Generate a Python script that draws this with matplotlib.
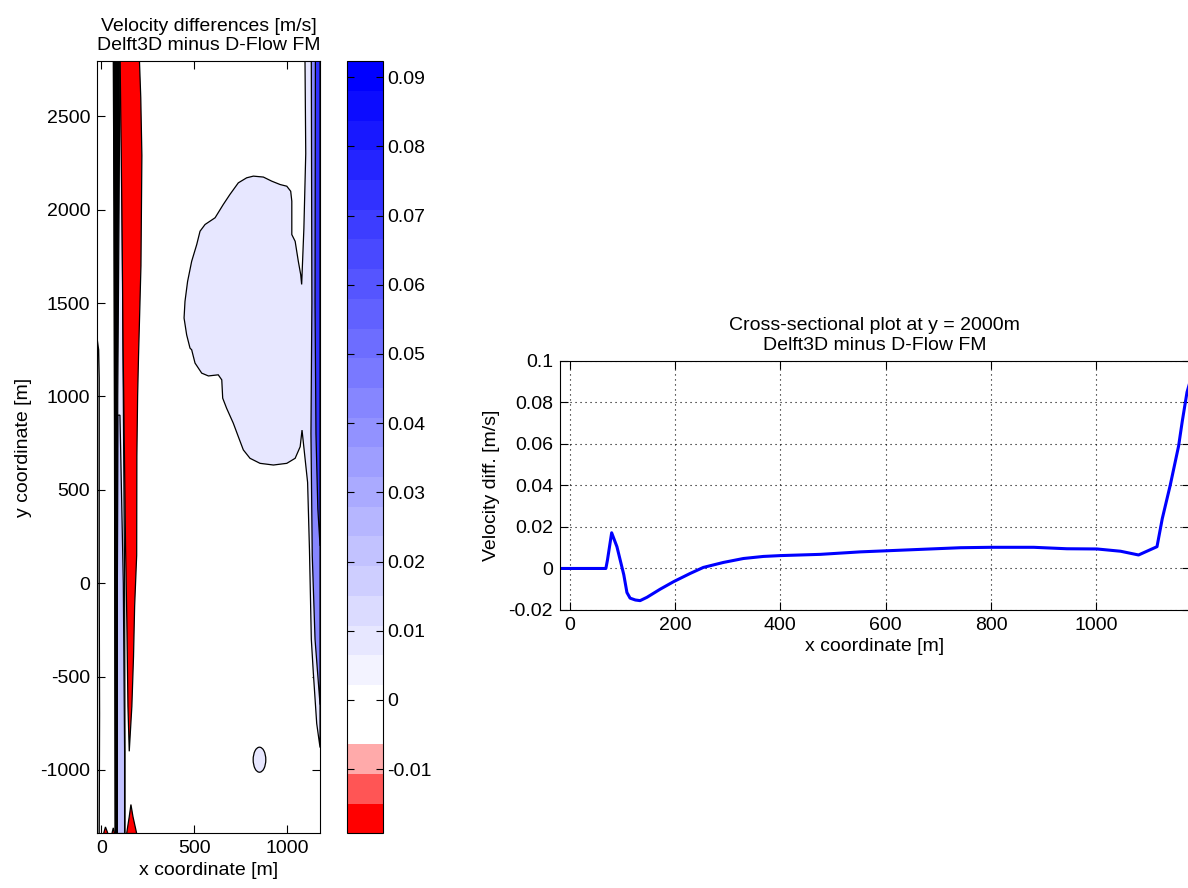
import numpy as np
import matplotlib
matplotlib.use('Agg')
import matplotlib.pyplot as plt
from matplotlib.colors import ListedColormap, Normalize
from matplotlib.cm import ScalarMappable
from matplotlib.patches import Polygon, Ellipse

plt.rcParams['font.family'] = ['Liberation Sans', 'DejaVu Sans']
plt.rcParams['font.size'] = 14
plt.rcParams['axes.unicode_minus'] = False

# ---- contour regions of the velocity difference field ----
# blob in the middle, joined to the strip along the right bank (level ~0.008 m/s)
lav_x = [1096, 1100, 1090, 1078, 1073, 1060, 1043, 1025, 1025, 1019, 998, 962, 917, 872, 818,
         782, 737, 692, 656, 612, 558, 531, 513, 486, 464, 450, 445, 459, 477, 486, 504, 540,
         576, 629, 648, 653, 674, 710, 737, 764, 800, 854, 926, 998, 1043, 1070, 1080, 1110,
         1120, 1130, 1141, 1159, 1177, 1177]
lav_y = [2795, 2300, 1900, 1600, 1652, 1724, 1831, 1867, 2046, 2099, 2126, 2135, 2153, 2175, 2180,
         2171, 2144, 2082, 2028, 1957, 1921, 1885, 1813, 1724, 1616, 1509, 1420, 1330, 1259, 1250,
         1179, 1125, 1110, 1116, 1089, 991, 937, 857, 785, 714, 669, 642, 633, 642, 669, 731, 820,
         540, 180, -300, -483, -751, -880, 2795]
lav_level = 0.008

# stronger positive strips along the right bank
mid_x = [1130, 1133, 1128, 1135, 1150, 1177, 1177]
mid_y = [2795, 1500, 800, 150, -300, -650, 2795]
mid_level = 0.045
dark_x = [1152, 1150, 1155, 1165, 1177, 1177]
dark_y = [2795, 1500, 800, 400, 200, 2795]
dark_level = 0.075

# strips along the left bank
left_lav_x = [66, 70, 72, 75, 127, 127, 125, 118, 112, 105]
left_lav_y = [2795, 1500, 500, -1340, -1340, -900, 0, 1000, 2000, 2795]
left_lav_level = 0.008
left_mid_x = [88, 86, 86, 125, 125, 118, 100]
left_mid_y = [900, 0, -1340, -1340, -900, 0, 900]
left_mid_level = 0.02
black_x = [64, 68, 70, 72, 74, 86, 86, 88, 95, 100]
black_y = [2795, 2000, 1000, 0, -1340, -1340, 0, 1000, 2000, 2795]

# negative differences (red)
red_x = [101, 110, 117, 124, 130, 137, 143, 150, 164, 173, 179, 190, 191, 195, 200, 213, 218, 212, 205]
red_y = [2795, 2023, 1250, 700, 200, -200, -660, -900, -660, -392, -123, 150, 681, 1000, 1218, 1700,
         2290, 2600, 2795]
red_level = -0.019
red_low_x = [136, 150, 159, 170, 190]
red_low_y = [-1340, -1250, -1185, -1250, -1340]
red_bit1_x = [12, 22, 35]
red_bit1_y = [-1340, -1305, -1340]
red_bit2_x = [57, 64, 71]
red_bit2_y = [-1340, -1310, -1340]

# small closed contour near the lower boundary
ell_center = (851, -945)
ell_size = (68, 134)

# contour line hugging the left boundary
edge_x = [-22, -15, -12, -12, -10, -12]
edge_y = [1300, 1250, 1100, 0, -700, -1340]

# ---- cross section at y = 2000 m ----
cs_x = [-18, 69, 72, 80, 90, 103, 109, 115, 125, 134, 147, 172, 198, 229, 254, 292, 330, 368, 400,
        476, 552, 647, 742, 799, 881, 944, 1001, 1046, 1080, 1115, 1125, 1140, 1156, 1163, 1172, 1176]
cs_v = [0, 0, 0.004, 0.0172, 0.0105, -0.003, -0.0116, -0.0143, -0.0152, -0.0155, -0.0139, -0.010,
        -0.0063, -0.0024, 0.0005, 0.0029, 0.0048, 0.0058, 0.0062, 0.0068, 0.0080, 0.0090, 0.0100,
        0.0102, 0.0102, 0.0095, 0.0094, 0.0083, 0.0065, 0.0105, 0.024, 0.040, 0.059, 0.071, 0.085,
        0.0885]

cb_ticks = [-0.01, 0, 0.01, 0.02, 0.03, 0.04, 0.05, 0.06, 0.07, 0.08, 0.09]
clim = (-0.0193, 0.0923)

# red - white - blue map with 26 bands
n_bands = 26
cols = []
for k in range(n_bands):
    if k < 3:
        f = k / 3
        cols.append((1, f, f))
    elif k < 5:
        cols.append((1, 1, 1))
    else:
        f = 1 - (k - 4) / 21
        cols.append((f, f, 1))
cmap = ListedColormap(cols)
norm = Normalize(*clim)

fig = plt.figure(figsize=(11.88, 8.88), dpi=100)
ax1 = fig.add_axes([0.0819, 0.0614, 0.1875, 0.8696])
cax = fig.add_axes([0.2923, 0.0614, 0.0298, 0.8696])
ax2 = fig.add_axes([0.4714, 0.3131, 0.5300, 0.2804])

ax1.set_facecolor('white')


def region(xs, ys, color, ec='black', z=2):
    p = Polygon(np.column_stack([xs, ys]), closed=True, facecolor=color, edgecolor=ec,
                linewidth=0.9, zorder=z)
    ax1.add_patch(p)


region(lav_x, lav_y, cmap(norm(lav_level)))
region(mid_x, mid_y, cmap(norm(mid_level)), z=3)
region(dark_x, dark_y, cmap(norm(dark_level)), z=4)
region(left_lav_x, left_lav_y, cmap(norm(left_lav_level)))
region(left_mid_x, left_mid_y, cmap(norm(left_mid_level)), z=3)
region(black_x, black_y, 'black', z=4)
region(red_x, red_y, cmap(norm(red_level)), z=5)
region(red_low_x, red_low_y, cmap(norm(red_level)), z=5)
region(red_bit1_x, red_bit1_y, cmap(norm(red_level)), z=5)
region(red_bit2_x, red_bit2_y, cmap(norm(red_level)), z=5)
ax1.add_patch(Ellipse(ell_center, ell_size[0], ell_size[1], facecolor=cmap(norm(lav_level)),
                      edgecolor='black', linewidth=0.9, zorder=3))
ax1.plot(edge_x, edge_y, color='black', linewidth=1.0, zorder=5)

ax1.set_xlim(-22, 1177)
ax1.set_ylim(-1340, 2795)
ax1.set_xticks([0, 500, 1000])
ax1.set_yticks(np.arange(-1000, 2501, 500))
ax1.tick_params(direction='in', top=True, right=True, length=5.5, width=0.8, pad=5)
ax1.set_xlabel('x coordinate [m]', labelpad=3)
ax1.set_ylabel('y coordinate [m]', labelpad=6)
ax1.set_title('Velocity differences [m/s]\nDelft3D minus D-Flow FM', fontsize=14, pad=8)

cb = fig.colorbar(ScalarMappable(norm=norm, cmap=cmap), cax=cax)
cb.set_ticks(cb_ticks)
cb.set_ticklabels(['%g' % t for t in cb_ticks])
cax.tick_params(direction='in', left=True, right=True, length=5, width=0.8, pad=3)
cb.outline.set_linewidth(0.8)

ax2.plot(cs_x, cs_v, color=(0, 0, 1), linewidth=2.2)
ax2.set_xlim(-18, 1177)
ax2.set_ylim(-0.02, 0.1)
ax2.set_xticks([0, 200, 400, 600, 800, 1000])
ax2.set_yticks([-0.02, 0, 0.02, 0.04, 0.06, 0.08, 0.1])
ax2.set_yticklabels(['-0.02', '0', '0.02', '0.04', '0.06', '0.08', '0.1'])
ax2.grid(True, color='black', linestyle=(0, (1, 3.5)), linewidth=0.8)
ax2.tick_params(direction='in', top=True, right=True, length=5.5, width=0.8, pad=5)
ax2.set_xlabel('x coordinate [m]', labelpad=3)
ax2.set_ylabel('Velocity diff. [m/s]', labelpad=6)
ax2.set_title('Cross-sectional plot at y = 2000m\nDelft3D minus D-Flow FM', fontsize=14, pad=8)

for a in (ax1, ax2, cax):
    for s in a.spines.values():
        s.set_linewidth(0.8)

fig.savefig('out.png', dpi=100)
